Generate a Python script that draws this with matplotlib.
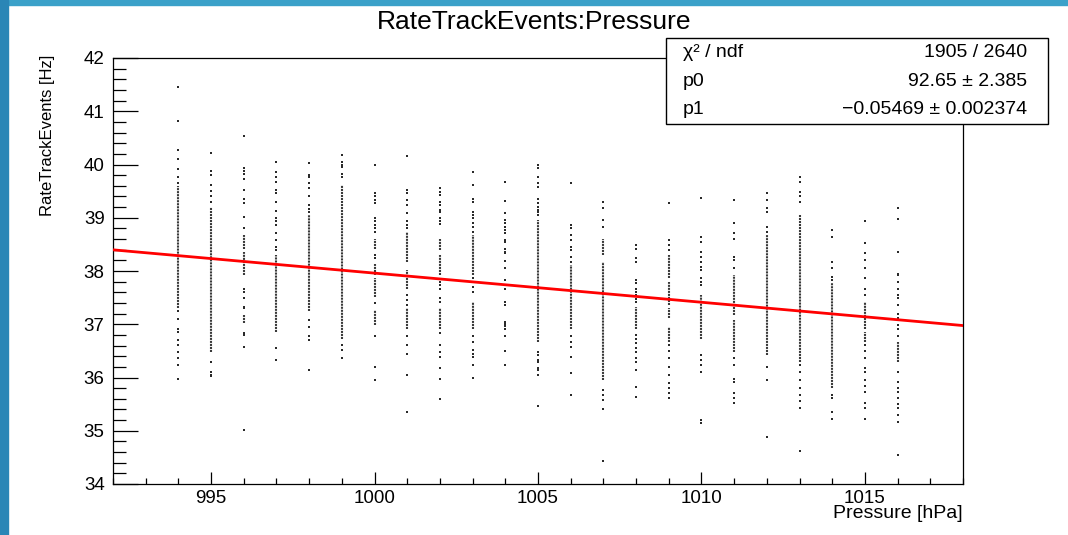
import matplotlib
matplotlib.use('Agg')
import matplotlib.pyplot as plt
from matplotlib.patches import Rectangle
from matplotlib.ticker import MultipleLocator

plt.rcParams['font.family'] = ['Liberation Sans', 'DejaVu Sans']

# fit result
p0 = 92.65
p1 = -0.05469
stats_rows = [('χ² / ndf', '1905 / 2640'),
              ('p0', '92.65 ± 2.385'),
              ('p1', '−0.05469 ± 0.002374')]

# points (Hz): single dots and dense runs (top, bottom)
p994 = [41.46, 40.82, 40.27, 40.10, 39.92, 39.77, 39.66, 37.24, 37.10, 36.92, 36.86, 36.70, 36.61, 36.48, 36.36, 36.23, 35.98]
b994 = [(39.60, 37.30)]
p995 = [40.21, 39.88, 39.80, 39.61, 39.51, 39.40, 39.30, 36.30, 36.11, 36.05, 36.02]
b995 = [(39.21, 36.48)]
p996 = [40.54, 39.93, 39.88, 39.83, 39.72, 39.52, 39.36, 39.27, 39.02, 38.80, 37.67, 37.61, 37.49, 37.33, 37.30, 36.83, 36.80, 36.58, 35.01]
b996 = [(38.67, 38.42), (38.36, 37.92), (37.17, 37.02)]
p997 = [40.05, 39.85, 39.77, 39.68, 39.52, 39.46, 39.30, 39.13, 38.99, 38.93, 38.86, 38.71, 38.58, 38.46, 38.40, 36.56, 36.32]
b997 = [(38.30, 36.86)]
p998 = [40.02, 39.80, 39.77, 39.65, 39.55, 39.40, 39.24, 39.17, 39.11, 37.08, 36.94, 36.77, 36.70, 36.15]
b998 = [(39.05, 37.24)]
p999 = [40.18, 40.05, 40.00, 39.96, 39.83, 39.77, 36.61, 36.52, 36.36]
b999 = [(39.61, 36.73)]
p1000 = [39.99, 39.46, 39.40, 39.33, 39.27, 38.99, 38.93, 38.86, 38.80, 38.74, 38.30, 38.24, 37.39, 36.77, 36.20, 35.95]
b1000 = [(38.61, 38.42), (38.14, 37.92), (37.86, 37.52), (37.27, 36.99)]
p1001 = [40.16, 39.52, 39.46, 39.33, 39.24, 39.08, 38.93, 38.86, 38.80, 37.55, 37.45, 37.36, 36.77, 36.61, 36.45, 36.05, 35.36]
b1001 = [(38.74, 38.17), (38.02, 37.67), (37.30, 36.92)]
p1002 = [39.55, 39.49, 39.43, 39.30, 39.24, 39.15, 39.11, 38.99, 38.94, 38.89, 37.80, 37.74, 37.67, 37.49, 37.42, 36.83, 36.61, 36.48, 36.39, 36.17, 35.97, 35.60]
b1002 = [(38.61, 38.39), (38.30, 37.92), (37.30, 36.92)]
p1003 = [39.85, 39.61, 39.36, 39.30, 39.11, 39.05, 38.99, 38.90, 38.82, 38.74, 37.86, 37.80, 37.70, 37.61, 36.77, 36.67, 36.52, 36.45, 36.39, 36.23, 36.00]
b1003 = [(38.67, 37.92), (37.42, 36.92)]
p1004 = [39.68, 39.31, 39.08, 38.96, 38.90, 38.83, 38.77, 38.71, 38.58, 38.55, 38.42, 38.36, 38.33, 38.19, 38.05, 37.83, 37.67, 37.42, 37.36, 37.05, 37.00, 36.96, 36.92, 36.77, 36.50, 36.23]
b1004 = []
p1005 = [39.99, 39.93, 39.76, 39.65, 39.58, 39.36, 39.27, 39.21, 39.15, 39.10, 39.05, 36.48, 36.42, 36.33, 36.30, 36.17, 36.14, 36.05, 35.46]
b1005 = [(38.96, 36.67)]
p1006 = [39.65, 38.86, 38.80, 38.67, 38.58, 38.46, 38.39, 38.27, 38.17, 36.77, 36.67, 36.58, 36.39, 36.09, 35.68]
b1006 = [(38.11, 36.92)]
p1007 = [39.30, 39.18, 38.96, 38.83, 35.76, 35.68, 35.58, 35.40, 34.44]
b1007 = [(38.61, 38.30), (38.17, 35.95)]
p1008 = [38.49, 38.42, 38.24, 38.17, 37.83, 37.77, 37.67, 37.61, 37.55, 37.48, 37.42, 36.80, 36.73, 36.64, 36.56, 36.48, 36.36, 36.30, 36.14, 35.83, 35.64]
b1008 = [(37.33, 36.92)]
p1009 = [39.28, 38.58, 38.49, 38.39, 36.61, 36.50, 36.36, 36.20, 36.05, 35.89, 35.80, 35.70, 35.61]
b1009 = [(38.30, 37.86), (37.80, 37.36), (37.30, 37.11), (36.95, 36.67)]
p1010 = [39.38, 38.64, 38.55, 38.36, 38.27, 38.17, 38.08, 38.02, 37.86, 37.80, 37.74, 36.42, 36.33, 36.23, 36.11, 35.20, 35.14]
b1010 = [(37.55, 36.73)]
p1011 = [39.33, 38.91, 38.71, 38.61, 38.27, 38.21, 38.05, 36.36, 36.23, 35.97, 35.92, 35.70, 35.61, 35.52]
b1011 = [(37.92, 37.17), (37.08, 36.48)]
p1012 = [39.46, 39.33, 39.18, 39.10, 38.83, 38.74, 36.20, 35.95, 34.88]
b1012 = [(38.67, 36.42)]
p1013 = [39.77, 39.68, 39.49, 39.40, 39.30, 36.23, 36.10, 35.95, 35.80, 35.67, 35.55, 35.42, 34.62]
b1013 = [(39.05, 36.30)]
p1014 = [38.77, 38.63, 38.17, 38.05, 37.89, 37.83, 35.67, 35.61, 35.36, 35.23]
b1014 = [(37.77, 35.80)]
p1015 = [38.93, 38.52, 38.33, 38.21, 38.05, 37.86, 37.67, 37.55, 36.61, 36.50, 36.36, 36.17, 36.11, 35.95, 35.84, 35.73, 35.52, 35.42, 35.23]
b1015 = [(37.42, 36.92), (36.86, 36.67)]
p1016 = [39.18, 38.98, 38.36, 37.95, 37.92, 37.80, 37.67, 37.55, 37.49, 37.36, 37.20, 37.11, 36.99, 36.92, 36.77, 36.11, 35.92, 35.80, 35.73, 35.61, 35.50, 35.42, 35.30, 35.17, 34.55]
b1016 = [(36.67, 36.30)]

pressure = list(range(994, 1017))
dots = [p994, p995, p996, p997, p998, p999, p1000, p1001, p1002, p1003, p1004, p1005,
        p1006, p1007, p1008, p1009, p1010, p1011, p1012, p1013, p1014, p1015, p1016]
runs = [b994, b995, b996, b997, b998, b999, b1000, b1001, b1002, b1003, b1004, b1005,
        b1006, b1007, b1008, b1009, b1010, b1011, b1012, b1013, b1014, b1015, b1016]

W, H = 1068, 535
fig = plt.figure(figsize=(W / 100, H / 100), dpi=100)
fig.patch.set_facecolor('white')

# slide border
fig.patches.append(Rectangle((0, 1 - 5 / H), 1, 5 / H, transform=fig.transFigure,
                             color='#3ba1c9', zorder=0))
fig.patches.append(Rectangle((0, 0), 8 / W, 1, transform=fig.transFigure,
                             color='#2a86b6', zorder=0))

ax = fig.add_axes([113 / W, 1 - 484 / H, (963 - 113) / W, (484 - 58) / H])
ax.set_xlim(992, 1018)
ax.set_ylim(34, 42)

for x, ys, bands in zip(pressure, dots, runs):
    ax.scatter([x] * len(ys), ys, marker='s', s=2.4, color='#2a2a2a', linewidths=0, zorder=2)
    for top, bot in bands:
        ax.vlines(x, bot, top, colors='#3a3a3a', linewidth=1.5,
                  linestyles=(0, (1.0, 0.45)), zorder=2)

xs = [992, 1018]
ax.plot(xs, [p0 + p1 * v for v in xs], color='#ff0000', lw=2.0, zorder=3)

ax.xaxis.set_major_locator(MultipleLocator(5))
ax.xaxis.set_minor_locator(MultipleLocator(1))
ax.yaxis.set_major_locator(MultipleLocator(1))
ax.yaxis.set_minor_locator(MultipleLocator(0.2))
ax.tick_params(axis='both', which='both', direction='in', width=0.9, colors='black',
               labelsize=13.5)
ax.tick_params(axis='y', which='major', length=18, pad=6)
ax.tick_params(axis='y', which='minor', length=9)
ax.tick_params(axis='x', which='major', length=9, pad=4)
ax.tick_params(axis='x', which='minor', length=4.5)
for sp in ax.spines.values():
    sp.set_linewidth(0.9)

fig.text(534 / W, 1 - 22 / H, 'RateTrackEvents:Pressure', ha='center', va='center',
         fontsize=19)
fig.text(963 / W, 1 - 513 / H, 'Pressure [hPa]', ha='right', va='center', fontsize=14)
fig.text(48 / W, 1 - 55 / H, 'RateTrackEvents [Hz]', ha='center', va='top',
         rotation=90, fontsize=12)

# stats box
fig.patches.append(Rectangle((666 / W, 1 - 124 / H), (1048 - 666) / W, (124 - 38) / H,
                             transform=fig.transFigure, facecolor='white',
                             edgecolor='black', lw=1.0, zorder=5))
for (name, val), yy in zip(stats_rows, [52, 81, 110]):
    fig.text(683 / W, 1 - yy / H, name, ha='left', va='center', fontsize=14, zorder=6)
    fig.text(1027 / W, 1 - yy / H, val, ha='right', va='center', fontsize=14, zorder=6)

fig.savefig('out.png', dpi=100)
